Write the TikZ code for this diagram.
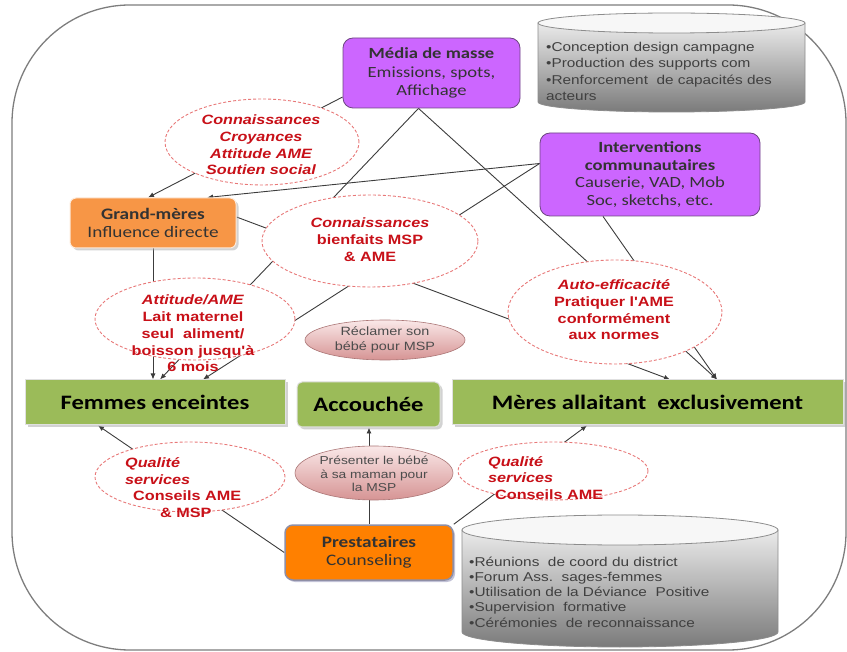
\documentclass[tikz,border=0pt]{standalone}
\usepackage{fontspec}
\setmainfont{Liberation Sans}
\newfontfamily\fcal[FakeStretch=1.2]{Carlito}
\newfontfamily\fari[FakeStretch=1.2]{Liberation Sans}
\usetikzlibrary{shapes.geometric,arrows.meta,shadows}
\pgfdeclarelayer{back}
\pgfsetlayers{back,main}

\definecolor{purp}{RGB}{204,102,255}
\definecolor{purpline}{RGB}{110,70,130}
\definecolor{gmorange}{RGB}{247,150,70}
\definecolor{prorange}{RGB}{255,128,0}
\definecolor{leaf}{RGB}{155,187,89}
\definecolor{msgred}{RGB}{200,16,24}
\definecolor{dashred}{RGB}{232,120,120}
\definecolor{pinkA}{RGB}{250,232,232}
\definecolor{pinkB}{RGB}{214,148,148}
\definecolor{framegray}{RGB}{125,125,125}
\definecolor{linkgray}{RGB}{60,60,60}

\begin{document}
\begin{tikzpicture}[x=1pt,y=-1pt,
  purplebox/.style={draw=purpline, line width=0.8pt, fill=purp, rounded corners=10pt,
    inner sep=0pt, align=center, text=black!80, font={\fcal\fontsize{15.5}{18.5}\selectfont}},
  stagebox/.style={draw=black!12, line width=1pt, fill=leaf, inner sep=0pt,
    font={\fcal\bfseries\fontsize{20.5}{24}\selectfont},
    drop shadow={shadow xshift=2.5pt, shadow yshift=-2.5pt, fill=black!35, opacity=0.5}},
  gmbox/.style={draw=white!80!gmorange, line width=1pt, fill=gmorange, rounded corners=6pt,
    inner sep=0pt, align=center, text=black!80, font={\fcal\fontsize{16}{17.5}\selectfont},
    drop shadow={shadow xshift=2.5pt, shadow yshift=-2.5pt, fill=black!35, opacity=0.5}},
  probox/.style={draw=white!70!blue!30!gray, line width=1.5pt, fill=prorange, rounded corners=8pt,
    inner sep=0pt, align=center, text=black!80, font={\fcal\fontsize{16}{18}\selectfont},
    drop shadow={shadow xshift=2pt, shadow yshift=-2pt, fill=blue!20!gray, opacity=0.4}},
  cloud/.style={ellipse, draw=dashred, dash pattern=on 3pt off 2pt, line width=0.9pt,
    fill=white, inner sep=0pt},
  pinkcloud/.style={ellipse, draw=pinkB!80!black, line width=0.6pt, top color=pinkA,
    bottom color=pinkB, inner sep=0pt},
  msg/.style={text=msgred, inner sep=0pt, font={\fari\bfseries\fontsize{13.5}{16.7}\selectfont}},
  pinktext/.style={text=black!70, inner sep=0pt, align=center},
  drumtext/.style={text=black!75, inner sep=0pt, align=left, font={\fari\fontsize{12.8}{16.2}\selectfont}},
  link/.style={draw=linkgray, line width=0.9pt},
  arr/.style={link, -{Latex[length=6pt,width=5pt]}}
]
\useasboundingbox (0,0) rectangle (847,652);

% upper storage drum
\path[top color=black!8, bottom color=black!52, draw=black!45, line width=0.8pt]
  (538,23) -- (538,102) .. controls (538,107.52) and (597.77,112) .. (671.5,112)
  .. controls (745.23,112) and (805,107.52) .. (805,102) -- (805,23) -- cycle;
\draw[black!45, fill=black!3, line width=0.8pt] (671.5,23) ellipse [x radius=133.5, y radius=10];
\node[drumtext, anchor=west] (drumA) at (546,71.5)
  {•Conception design campagne\\•Production des supports com\\•Renforcement\ \ de capacités des\\acteurs};

% lower storage drum
\path[top color=black!8, bottom color=black!52, draw=black!45, line width=0.8pt]
  (462,530) -- (462,632) .. controls (462,640.28) and (532.74,647) .. (620,647)
  .. controls (707.26,647) and (778,640.28) .. (778,632) -- (778,530) -- cycle;
\draw[black!45, fill=black!3, line width=0.8pt] (620,530) ellipse [x radius=158, y radius=15];
\node[drumtext, anchor=west, font={\fari\fontsize{12.8}{15.3}\selectfont}] (drumB) at (469,592)
  {•Réunions\ \ de coord du district\\•Forum Ass.\ \ sages-femmes\\•Utilisation de la Déviance\ \ Positive\\•Supervision\ \ formative\\•Cérémonies\ \ de reconnaissance};

% channels
\node[purplebox, minimum width=177pt, minimum height=70pt] (media) at (431.5,73)
  {\textbf{Média de masse}\\Emissions, spots,\\Affichage};
\node[purplebox, minimum width=220pt, minimum height=83pt, font={\fcal\fontsize{15.5}{17.5}\selectfont}] (inter) at (650,174.5)
  {\textbf{Interventions}\\\textbf{communautaires}\\Causerie, VAD, Mob\\Soc, sketchs, etc.};
\node[gmbox, minimum width=166pt, minimum height=50pt] (gm) at (153,223)
  {\textbf{Grand-mères}\\Influence directe};
\node[probox, minimum width=168pt, minimum height=55pt] (pre) at (369,552.5)
  {\textbf{Prestataires}\\Counseling};

% target groups
\node[stagebox, minimum width=260pt, minimum height=45pt] (fem) at (155,402.5) {Femmes enceintes};
\node[stagebox, minimum width=143pt, minimum height=45pt, rounded corners=5pt] (acc) at (368.5,404.5) {Accouchée};
\node[stagebox, minimum width=391pt, minimum height=45pt] (mer) at (647.5,402.5) {Mères allaitant\ \ exclusivement};

% messages
\node[cloud, minimum width=194pt, minimum height=86pt] (eC) at (262,142) {};
\node[msg, align=center, font={\fari\bfseries\itshape\fontsize{13.5}{16.7}\selectfont}] (tC) at (261,145)
  {Connaissances\\Croyances\\Attitude AME\\Soutien social};

\node[cloud, minimum width=216pt, minimum height=92pt] (eB) at (370,241) {};
\node[msg, align=center, font={\fari\bfseries\fontsize{13.5}{17}\selectfont}] (tB) at (370,240)
  {\textit{Connaissances}\\bienfaits MSP\\\& AME};

\node[cloud, minimum width=200pt, minimum height=82pt] (eA) at (195,319) {};
\node[msg, align=center] (tA) at (193,333.5)
  {\textit{Attitude/AME}\\Lait maternel\\seul\ \ aliment/\\boisson jusqu'à\\6 mois};

\node[cloud, minimum width=214pt, minimum height=104pt] (eS) at (615,312) {};
\node[msg, align=center] (tS) at (614,310)
  {\textit{Auto-efficacité}\\Pratiquer l'AME\\conformément\\aux normes};

\node[cloud, minimum width=190pt, minimum height=70pt] (eQa) at (190,477) {};
\node[msg, align=left, anchor=west] (tQa) at (125,487.5)
  {\textit{Qualité}\\\textit{services}\\\hspace*{8pt}Conseils AME\\\hspace*{35pt}\& MSP};

\node[cloud, minimum width=190pt, minimum height=58pt] (eQb) at (553,471) {};
\node[msg, align=left, anchor=west] (tQb) at (488,478)
  {\textit{Qualité}\\\textit{services}\\\hspace*{7pt}Conseils AME};

% actions
\node[pinkcloud, minimum width=160pt, minimum height=40pt] (eR) at (385,340) {};
\node[pinktext, font={\fari\fontsize{12}{14.5}\selectfont}] (tR) at (385,340) {Réclamer son\\bébé pour MSP};

\node[pinkcloud, minimum width=158pt, minimum height=54pt] (eP) at (374,473) {};
\node[pinktext, font={\fari\fontsize{11.5}{13.5}\selectfont}] (tP) at (374,474) {Présenter le bébé\\à sa maman pour\\la MSP};

\begin{pgfonlayer}{back}
  \draw[framegray, line width=1.3pt, rounded corners=118pt] (12,5) rectangle (846,650);

  \draw[arr] ([yshift=-24pt]media.west) -- ([xshift=-5pt]gm.north);
  \draw[arr] ([xshift=-13pt]media.south) -- ([xshift=5pt]fem.north);
  \draw[arr] ([xshift=-13pt]media.south) -- ([xshift=69.5pt]mer.north);
  \draw[arr] ([yshift=11pt]inter.west) -- ([xshift=54pt]gm.north);
  \draw[arr] ([yshift=11pt]inter.west) -- ([xshift=48pt]fem.north);
  \draw[arr] ([xshift=-47pt]inter.south) -- ([xshift=69.5pt]mer.north);
  \draw[arr] ([yshift=6pt]gm.east) -- ([xshift=22.5pt]mer.north);
  \draw[arr] (gm.south) -- (gm.south |- fem.north);
  \draw[arr] (pre.west) -- ([xshift=-57pt]fem.south);
  \draw[arr] (pre.north east) -- ([xshift=-60.5pt]mer.south);
  \draw[arr] (pre.north) -- (pre.north |- acc.south);
\end{pgfonlayer}
\end{tikzpicture}
\end{document}
